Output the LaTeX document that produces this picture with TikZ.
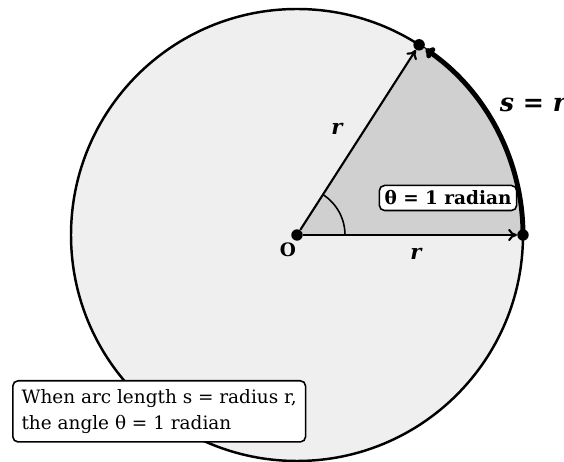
\documentclass[tikz,border=0pt]{standalone}
\usepackage{fontspec}
\setmainfont{DejaVu Serif}
\usepackage{xcolor}
\usepackage{tikz}
\usetikzlibrary{positioning, arrows.meta, calc}

\definecolor{diskfill}{HTML}{EFEFEF}
\definecolor{sectorfill}{HTML}{D0D0D0}

\begin{document}
\begin{tikzpicture}[
    x=0.02cm, y=0.02cm,
    rim line/.style={line width=1.4pt},
    ray line/.style={line width=1.2pt, -{To[length=5pt, width=7pt]}},
    dot/.style={circle, fill=black, inner sep=0pt, minimum size=6.5pt},
    info box/.style={draw, rounded corners=3pt, line width=0.9pt, fill=white},
    body text/.style={font=\fontsize{10.5}{14.5}\selectfont},
    bold text/.style={font=\fontsize{10.5}{14.5}\selectfont\bfseries}
]

\useasboundingbox (0,0) rectangle (564,462);

% --- 1. Disk and sector ---
\coordinate (O) at (297,227);
\fill[diskfill, draw=black, rim line] (O) circle[radius=226];
\fill[sectorfill] (O) -- ++(0:226) arc[start angle=0, end angle=57.2958, radius=226] -- cycle;

% --- 2. Points ---
\node[dot] (center) at (O) {};
\node[dot] (pA) at ($(O)+(0:226)$) {};
\node[dot] (pB) at ($(O)+(57.2958:226)$) {};

% --- 3. Radii ---
\draw[ray line] (center) -- (pA);
\draw[ray line] (center) -- (pB);

% angle mark
\draw[line width=0.9pt] ($(O)+(0:48)$) arc[start angle=0, end angle=57.2958, radius=48];

% arc s = r
\draw[line width=2.8pt, -{To[length=5pt, width=7pt]}] ($(O)+(0:226)$)
    arc[start angle=0, end angle=55.3, radius=226];

% --- 4. Labels ---
\node[bold text] (lblO) at (288,212) {O};
\node[font=\large\bfseries\itshape] (lblR1) at (337,333) {r};
\node[font=\large\bfseries\itshape] (lblR2) at (416,208) {r};
\node[font=\Large\bfseries\itshape] (lblS) at (533,357) {s = r};
\node[info box, bold text, inner sep=3pt] (lblTheta) at (448,264) {θ = 1 radian};

\node[info box, body text, align=left, anchor=north west, inner sep=5pt] (note) at (12,82)
    {When arc length s = radius r,\\the angle θ = 1 radian};

\end{tikzpicture}
\end{document}
